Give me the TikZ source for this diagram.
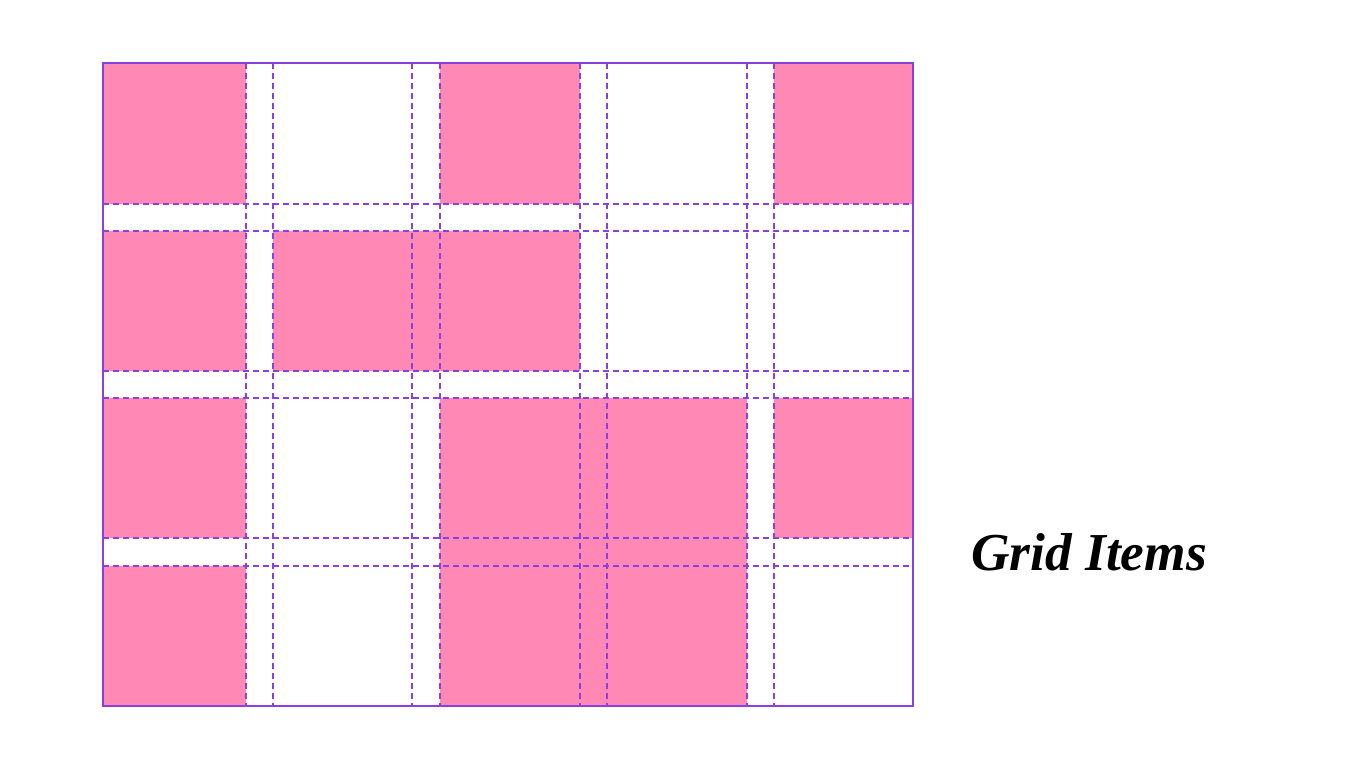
\documentclass[tikz,border=0pt]{standalone}
\usepackage{fontspec}
\newfontfamily\labelfont{Liberation Serif}
\definecolor{cellpink}{HTML}{FF88B4}
\definecolor{gridpurple}{HTML}{8A3FE0}
\begin{document}
\begin{tikzpicture}[x=0.75pt,y=-0.75pt,
  cell/.style={fill=cellpink, draw=none},
  guide/.style={draw=gridpurple, line width=1.5pt, dash pattern=on 4.5pt off 3pt},
  frame/.style={draw=gridpurple, line width=2pt}]
\useasboundingbox (0,0) rectangle (1366,768);
% pink grid items
\fill[cell] (103,63) rectangle (246,204);
\fill[cell] (440,63) rectangle (580,204);
\fill[cell] (774,63) rectangle (913,204);
\fill[cell] (103,231) rectangle (246,371);
\fill[cell] (273,231) rectangle (580,371);
\fill[cell] (103,398) rectangle (246,538);
\fill[cell] (440,398) rectangle (747,706);
\fill[cell] (774,398) rectangle (913,538);
\fill[cell] (103,566) rectangle (246,706);
% dashed grid lines
\foreach \x in {246,273,412,440,580,607,747,774}
  \draw[guide] (\x,63) -- (\x,706);
\foreach \y in {204,231,371,398,538,566}
  \draw[guide] (103,\y) -- (913,\y);
% outer frame
\draw[frame] (103,63) rectangle (913,706);
\node[font=\labelfont\bfseries\itshape\fontsize{40}{48}\selectfont, anchor=center] (label) at (1089,552) {Grid Items};
\end{tikzpicture}
\end{document}
